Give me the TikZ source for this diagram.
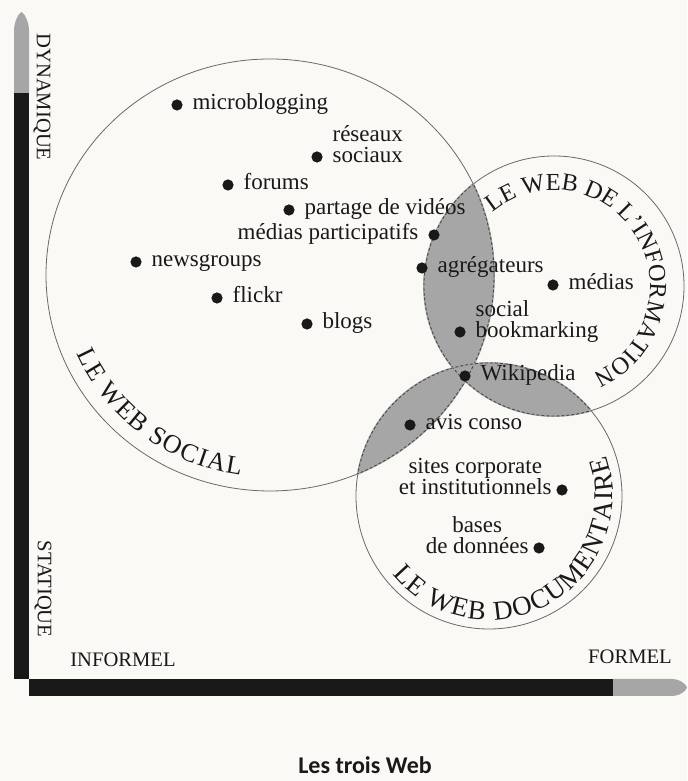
\documentclass[tikz,border=0pt]{standalone}
\usepackage{fontspec}
\setmainfont{Liberation Serif}
\newfontfamily\captionfont{Carlito}
\usepackage{tikz}
\usetikzlibrary{positioning, decorations.text}

\definecolor{paper}{RGB}{250,249,245}
\definecolor{ink}{RGB}{25,25,25}
\definecolor{lensgray}{RGB}{166,166,166}
\definecolor{rimgray}{RGB}{105,105,105}

% the three webs (social is slightly flattened)
\newcommand{\socialweb}{(270,506) ellipse [x radius=224, y radius=216]}
\newcommand{\infoweb}{(554,495) circle [radius=130]}
\newcommand{\docweb}{(489,285) circle [radius=133]}

\begin{document}
\begin{tikzpicture}[
  x=0.5pt, y=0.5pt,
  font=\fontsize{11.5}{10.5}\selectfont,
  % styles
  dot/.style={circle, fill=ink, inner sep=0pt, minimum size=5.6pt},
  item/.style={inner sep=0pt, text=ink, text height=0.7em, text depth=0.25em},
  items/.style={inner sep=0pt, text=ink},
  axislabel/.style={font=\fontsize{10.3}{12}\selectfont, text=ink, inner sep=0pt},
  rim/.style={draw=rimgray, line width=0.4pt},
  lens/.style={fill=lensgray},
  lenserase/.style={draw=lensgray, line width=0.9pt},
  lensedge/.style={draw=rimgray!70!black, line width=0.45pt, dash pattern=on 1.5pt off 1pt},
  webtitle/.style={decorate, decoration={text along path, text align={fit to path}, text color=ink}},
]
\useasboundingbox (0,0) rectangle (687,781);
\fill[paper] (0,0) rectangle (687,781);

% ---- OVERLAPS ----
\foreach \a/\b in {\socialweb/\infoweb, \socialweb/\docweb, \infoweb/\docweb} {
  \begin{scope}
    \clip \a;
    \fill[lens] \b;
  \end{scope}
}

% ---- RIMS ----
\draw[rim] \socialweb;
\draw[rim] \infoweb;
\draw[rim] \docweb;

% dashed rims inside the overlaps
\foreach \a/\b in {\socialweb/\infoweb, \infoweb/\socialweb, \socialweb/\docweb,
                   \docweb/\socialweb, \infoweb/\docweb, \docweb/\infoweb} {
  \begin{scope}
    \clip \a;
    \draw[lenserase] \b;
    \draw[lensedge] \b;
  \end{scope}
}

% ---- AXES ----
\fill[ink] (14,102) rectangle (29,688);
\fill[lensgray] (14,688) -- (14,750) .. controls (14,760) and (19,768) .. (21.5,769)
  .. controls (24,768) and (29,760) .. (29,750) -- (29,688) -- cycle;
\fill[ink] (29,85) rectangle (613,102);
\fill[lensgray] (613,85) -- (671,85) .. controls (680,85) and (686,90) .. (687,93.5)
  .. controls (686,97) and (680,102) .. (671,102) -- (613,102) -- cycle;

\node[axislabel, rotate=-90] (dyn)  at (42,684)  {DYNAMIQUE};
\node[axislabel, rotate=-90] (stat) at (43,192)  {STATIQUE};
\node[axislabel] (inf) at (123,121) {INFORMEL};
\node[axislabel] (frm) at (630,124) {FORMEL};

% ---- WEB SOCIAL ----
\node[dot] (micro)   at (177,676) {};
\node[dot] (reseaux) at (317,624) {};
\node[dot] (forums)  at (228,596) {};
\node[dot] (partage) at (289,571) {};
\node[dot] (medpart) at (434,546) {};
\node[dot] (news)    at (136,519) {};
\node[dot] (flickr)  at (217,483) {};
\node[dot] (blogs)   at (307,457) {};

\node[item, right=4.6pt of micro]   {microblogging};
\node[items, align=left, right=4.6pt of reseaux, yshift=6.6pt] {réseaux\\sociaux};
\node[item, right=4.6pt of forums]  {forums};
\node[item, right=4.6pt of partage] {partage de vidéos};
\node[item, left=4.6pt of medpart]  {médias participatifs};
\node[item, right=4.6pt of news]    {newsgroups};
\node[item, right=4.6pt of flickr]  {flickr};
\node[item, right=4.6pt of blogs]   {blogs};

% ---- WEB DE L'INFORMATION ----
\node[dot] (agreg)  at (422,513) {};
\node[dot] (medias) at (553,496) {};
\node[dot] (bookm)  at (460,449) {};
\node[dot] (wiki)   at (465,405) {};

\node[item, right=4.6pt of agreg]  {agrégateurs};
\node[item, right=4.6pt of medias] {médias};
\node[items, align=left, right=4.6pt of bookm, yshift=5.4pt] {social\\bookmarking};
\node[item, right=4.6pt of wiki]   {Wikipedia};

% ---- WEB DOCUMENTAIRE ----
\node[dot] (avis)  at (410,356) {};
\node[dot] (sites) at (562,291) {};
\node[dot] (bases) at (539,233) {};

\node[item, right=4.6pt of avis] {avis conso};
\node[items, align=center, left=2pt of sites, yshift=6.6pt] {sites corporate\\et institutionnels};
\node[items, align=center, left=2pt of bases, yshift=6.6pt] {bases\\de données};

% ---- TITLES ON THE RIMS ----
\path[webtitle, decoration={text={|\fontsize{13}{13}\selectfont|LE WEB SOCIAL}}]
  (270,506) ++(203:210 and 202) arc [start angle=203, end angle=262, x radius=210, y radius=202];
\path[webtitle, decoration={text align=center, text={|\fontsize{12.2}{13}\selectfont|LE WEB DE L’INFORMATION}}]
  (554,495) ++(130:96) arc [start angle=130, end angle=-66, radius=96];
\path[webtitle, decoration={text={|\fontsize{13.5}{14}\selectfont|LE WEB DOCUMENTAIRE}}]
  (489,285) ++(219:124) arc [start angle=219, end angle=379, radius=124];

% caption
\node[font={\captionfont\bfseries\fontsize{12}{14}\selectfont}, text=ink, inner sep=0pt] (caption) at (365,16) {Les trois Web};
\end{tikzpicture}
\end{document}
